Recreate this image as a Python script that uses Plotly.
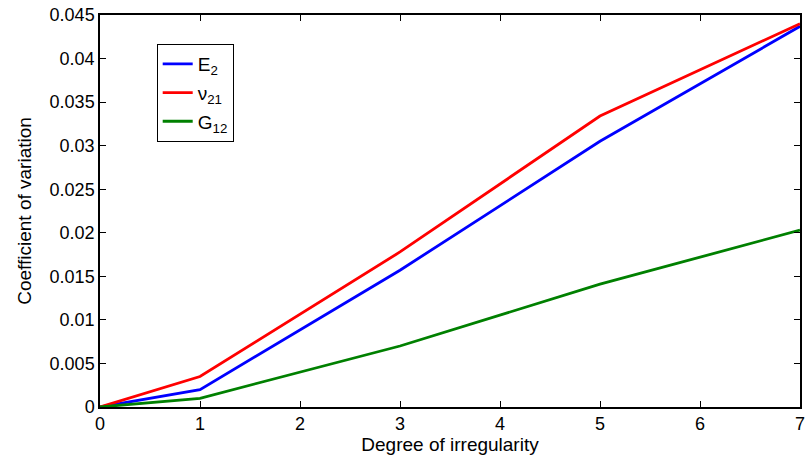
import plotly.graph_objects as go

# Degree of irregularity vs coefficient of variation of the material properties
degree = [0, 1, 3, 5, 7]
cv_E2 = [0.0, 0.0020, 0.0157, 0.0305, 0.0437]
cv_nu21 = [0.0, 0.0035, 0.0178, 0.0334, 0.0440]
cv_G12 = [0.0, 0.0010, 0.0070, 0.0141, 0.0203]

series_names = ["E<sub>2</sub>", "\u03bd<sub>21</sub>", "G<sub>12</sub>"]
series_colors = ["#0000ff", "#ff0000", "#008000"]

x_ticks = [0, 1, 2, 3, 4, 5, 6, 7]
y_ticks = [0, 0.005, 0.01, 0.015, 0.02, 0.025, 0.03, 0.035, 0.04, 0.045]
y_tick_text = ["0", "0.005", "0.01", "0.015", "0.02", "0.025", "0.03", "0.035", "0.04", "0.045"]

FONT = "Liberation Sans, Arial, sans-serif"

fig = go.Figure()
for i, (name, values, color) in enumerate(zip(series_names, [cv_E2, cv_nu21, cv_G12], series_colors)):
    fig.add_trace(go.Scatter(
        x=degree, y=values, mode="lines", name=name, legendgroup=f"g{i}",
        line=dict(color=color, width=2.8),
    ))

axis_common = dict(
    showgrid=False, zeroline=False, showline=True, linecolor="black", linewidth=1.5,
    mirror="allticks", ticks="inside", ticklen=6, tickcolor="black", tickwidth=1,
    tickfont=dict(family=FONT, size=18, color="black"),
)

fig.update_xaxes(
    range=[0, 7], tickvals=x_ticks,
    title=dict(text="Degree of irregularity", font=dict(family=FONT, size=19, color="black"), standoff=0),
    **axis_common,
)
fig.update_yaxes(
    range=[0, 0.045], tickvals=y_ticks, ticktext=y_tick_text,
    title=dict(text="Coefficient of variation", font=dict(family=FONT, size=19, color="black"), standoff=13),
    **axis_common,
)

fig.update_layout(
    width=809, height=457,
    margin=dict(l=100, r=4, t=15, b=50),
    paper_bgcolor="white", plot_bgcolor="white",
    showlegend=True,
    legend=dict(
        x=0.081, y=0.926, xanchor="left", yanchor="top",
        bgcolor="white", bordercolor="black", borderwidth=1,
        font=dict(family=FONT, size=19, color="black"),
        tracegroupgap=1, itemwidth=30,
    ),
)

fig.write_html("out.html")
